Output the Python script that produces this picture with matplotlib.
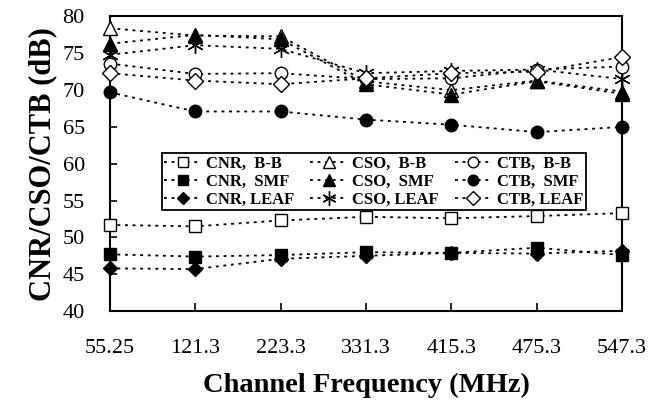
import matplotlib
matplotlib.use("Agg")
import matplotlib.pyplot as plt

plt.rcParams['font.family'] = ['Liberation Serif', 'DejaVu Serif']

freq_labels = ['55.25', '121.3', '223.3', '331.3', '415.3', '475.3', '547.3']

# CNR
cnr_bb = [51.7, 51.5, 52.3, 52.8, 52.6, 52.9, 53.3]
cnr_smf = [47.7, 47.4, 47.6, 48.0, 47.9, 48.6, 47.6]
cnr_leaf = [45.8, 45.7, 47.1, 47.5, 47.9, 47.8, 48.2]
# CSO
cso_bb = [78.4, 77.4, 77.3, 71.2, 70.0, 71.3, 69.8]
cso_smf = [76.3, 77.5, 76.9, 70.8, 69.4, 71.2, 69.5]
cso_leaf = [74.8, 76.1, 75.6, 72.3, 72.6, 72.8, 71.5]
# CTB
ctb_bb = [73.6, 72.2, 72.3, 71.5, 71.6, 72.8, 73.2]
ctb_smf = [69.7, 67.1, 67.1, 66.0, 65.3, 64.3, 65.0]
ctb_leaf = [72.3, 71.3, 70.8, 71.6, 72.3, 72.5, 74.5]

fig = plt.figure(figsize=(6.5, 4.12), dpi=100)
ax = fig.add_axes([0.169, 0.245, 0.788, 0.715])

x = list(range(len(freq_labels)))
ls = (0, (1.6, 2.6))
star = (6, 2, 0)

series = [
    (cnr_bb, 's', 'white', 9, 'CNR,  B-B'),
    (cnr_smf, 's', 'black', 9, 'CNR,  SMF'),
    (cnr_leaf, 'D', 'black', 7, 'CNR, LEAF'),
    (cso_bb, '^', 'white', 10, 'CSO,  B-B'),
    (cso_smf, '^', 'black', 10, 'CSO,  SMF'),
    (cso_leaf, star, 'black', 12, 'CSO, LEAF'),
    (ctb_bb, 'o', 'white', 9, 'CTB,  B-B'),
    (ctb_smf, 'o', 'black', 9, 'CTB,  SMF'),
    (ctb_leaf, 'D', 'white', 8, 'CTB, LEAF'),
]

for vals, mk, fc, ms, lab in series:
    ax.plot(x, vals, linestyle=ls, color='black', lw=1.3, marker=mk,
            markersize=ms, markerfacecolor=fc, markeredgecolor='black',
            markeredgewidth=1.0, label=lab, clip_on=False, zorder=3)

ax.set_xlim(0, 6)
ax.set_ylim(40, 80)
ax.set_yticks(range(40, 81, 5))
ax.set_xticks(x)
ax.set_xticklabels(freq_labels)

ax.tick_params(axis='both', direction='in', labelsize=16, width=1.2)
ax.tick_params(axis='x', length=6, pad=20)
ax.tick_params(axis='y', length=5, pad=18)
for sp in ax.spines.values():
    sp.set_linewidth(1.5)

ax.set_xlabel('Channel Frequency (MHz)', fontsize=20.5, fontweight='bold', labelpad=11)
ax.set_ylabel('CNR/CSO/CTB (dB)', fontsize=22, fontweight='bold', labelpad=4)

leg = ax.legend(ncol=3, loc='upper left', bbox_to_anchor=(0.085, 0.35, 0.86, 0.215),
                mode='expand', frameon=True, fancybox=False, edgecolor='black',
                framealpha=1, borderpad=0.15, labelspacing=0.12, handlelength=2.2,
                handletextpad=0.3, columnspacing=0.8, markerscale=0.85,
                prop={'weight': 'bold', 'size': 12})
leg.get_frame().set_linewidth(1.3)
leg.set_zorder(5)

fig.savefig('out.png', dpi=100)
